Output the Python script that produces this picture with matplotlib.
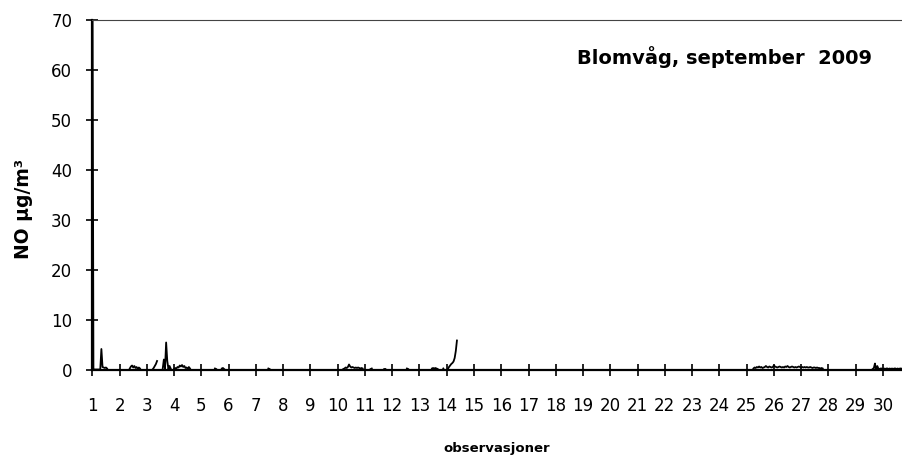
import numpy as np
import matplotlib
matplotlib.use("Agg")
import matplotlib.pyplot as plt

# hourly NO observations, september 2009 (missing hours left out)
n_hours = 720

d01 = [95, 0.2, 0.1, 0.1, 0.1, 0.1, 0.1, 0.1, 4.2, 0.6, 0.5, 0.4, 0.5, 0.3]
d02 = [0.3, 0.7, 0.9, 0.5, 0.8, 0.4, 0.6, 0.2, 0.5, 0.3]
d03a = [0.1, 0.4, 0.8, 1.2, 1.8]
d03b = [0.3, 2.1, 0.2, 5.5, 1.8, 0.2, 0.8, 0.3]
d04 = [0.2, 0.4, 0.3, 0.6, 0.5, 0.9, 0.7, 1.0, 0.6, 0.8, 0.4, 0.5, 0.2, 0.6, 0.3]
d05a = [-0.3, -0.2]
d05b = [0.3, 0.2]
d05c = [0.3, 0.4, 0.2]
d07 = [0.3, 0.2]
d10 = [0.2, 0.3, 0.5, 0.4, 0.6, 1.1, 0.7, 0.5, 0.6, 0.5, 0.4, 0.5, 0.4, 0.5, 0.4, 0.3, 0.4, 0.3]
d11a = [0.2, 0.3]
d11b = [0.2, 0.2]
d12 = [0.3, 0.2]
d13a = [0.3, 0.4, 0.3, 0.4, 0.3, 0.2]
d13b = [0.3, -0.2]
d14 = [0.2, 0.6, 0.9, 1.2, 1.4, 1.7, 2.4, 3.8, 5.9]
d25 = [0.3, 0.5, 0.4, 0.6, 0.5, 0.7, 0.5, 0.6, 0.4, 0.5, 0.6, 0.8, 0.6, 0.5,
       0.7, 0.6, 0.5, 0.6, 0.9, 0.7, 0.6, 0.5, 0.6, 0.7, 0.6, 0.5, 0.6, 0.5,
       0.7, 0.6, 0.8, 0.6, 0.5, 0.6, 0.7, 0.6, 0.5, 0.6, 0.5, 0.6, 0.7, 0.6,
       0.5, 0.6, 0.5, 0.6, 0.5, 0.6, 0.5, 0.5, 0.6, 0.5, 0.4, 0.5, 0.5, 0.4,
       0.5, 0.4, 0.4, 0.3, 0.4, 0.3]
d29 = [0.2, 0.4, 1.3, -0.3, 0.8, 0.3, 0.2, 0.3, 0.3, 0.2, 0.3, 0.2, 0.3, 0.3,
       0.2, 0.3, 0.2, 0.3, 0.2, 0.3, 0.3, 0.2, 0.3, 0.2, 0.3, 0.3, 0.2, 0.3,
       0.2, 0.3, 0.2]

seg_start = [0, 33, 53, 62, 72, 101, 108, 114, 155, 221, 245, 257, 277, 299,
             309, 313, 582, 687]
segments = [d01, d02, d03a, d03b, d04, d05a, d05b, d05c, d07, d10, d11a, d11b,
            d12, d13a, d13b, d14, d25, d29]

day_ticks = list(range(1, 31))

no = np.full(n_hours, np.nan)
for start, vals in zip(seg_start, segments):
    no[start:start + len(vals)] = vals
x = 1 + np.arange(n_hours) / 24

plt.rcParams['font.family'] = ['DejaVu Sans']

fig = plt.figure(figsize=(9.02, 4.55), dpi=100)
ax = fig.add_axes([92.3 / 902, 85 / 455, (902 - 92.3) / 902, 350 / 455])

ax.plot(x, no, color='black', lw=1.3)

ax.set_xlim(1, 30.70)
ax.set_ylim(0, 70)
ax.set_xticks(day_ticks)
ax.set_yticks(range(0, 71, 10))

ax.spines['right'].set_visible(False)
ax.spines['top'].set_color('#444444')
ax.spines['top'].set_linewidth(0.8)
ax.spines['left'].set_linewidth(1.6)
ax.spines['bottom'].set_linewidth(1.6)

ax.tick_params(axis='both', direction='inout', length=9, width=1.2, labelsize=12)
ax.tick_params(axis='x', pad=15)
ax.tick_params(axis='y', pad=10)

ax.set_xlabel('observasjoner', fontsize=9.5, fontweight='bold')
ax.xaxis.set_label_coords(0.5, -0.205)
ax.set_ylabel('NO µg/m³', fontsize=13.5, fontweight='bold')
ax.yaxis.set_label_coords(-0.073, 0.46)

ax.text(0.963, 0.894, 'Blomvåg, september  2009', transform=ax.transAxes,
        ha='right', va='center', fontsize=14, fontweight='bold')

fig.savefig('out.png', dpi=100)
